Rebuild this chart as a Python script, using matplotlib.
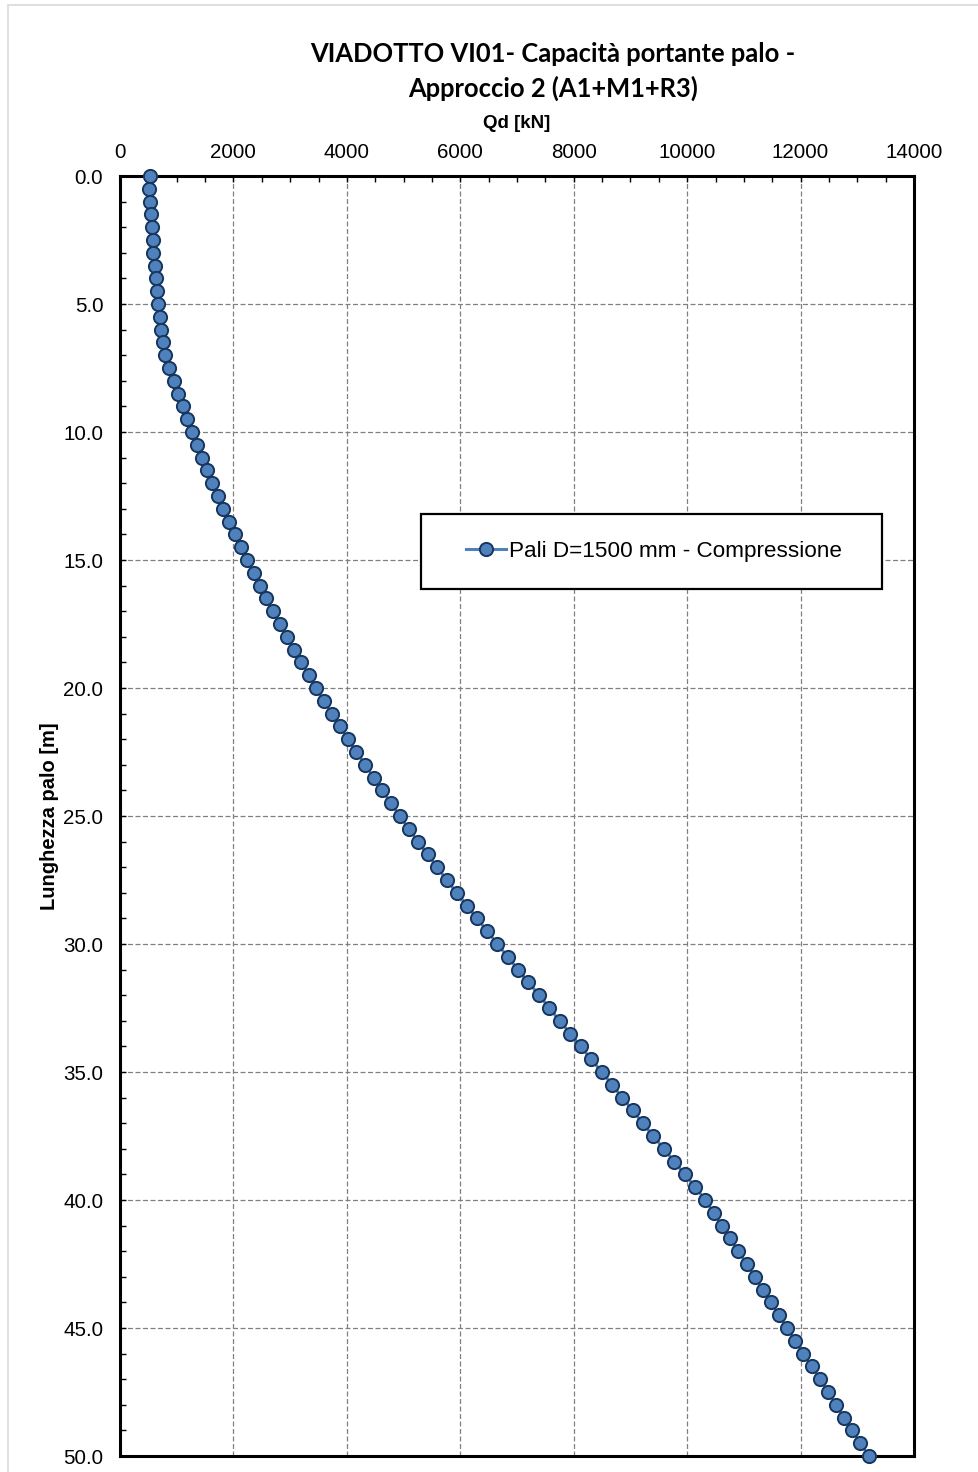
import numpy as np
import matplotlib
matplotlib.use("Agg")
import matplotlib.pyplot as plt
from matplotlib.ticker import MultipleLocator, FormatStrFormatter
from matplotlib.patches import Rectangle

# ========= Data =========
depth = np.arange(0, 50.5, 0.5)  # Lunghezza palo [m]
qd = [
    530, 515, 530, 550, 560, 580, 590, 610, 630, 650,
    670, 700, 730, 765, 800, 870, 945, 1025, 1105, 1185,
    1270, 1352, 1445, 1540, 1622, 1728, 1822, 1922, 2028, 2128,
    2239, 2357, 2463, 2574, 2698, 2816, 2939, 3068, 3197, 3327,
    3462, 3592, 3733, 3874, 4020, 4168, 4326, 4474, 4620, 4779,
    4932, 5091, 5255, 5426, 5590, 5761, 5937, 6119, 6295, 6477,
    6653, 6836, 7018, 7199, 7393, 7570, 7753, 7940, 8124, 8305,
    8499, 8676, 8857, 9040, 9217, 9404, 9587, 9774, 9958, 10145,
    10320, 10465, 10610, 10756, 10903, 11051, 11192, 11333, 11474, 11620,
    11762, 11908, 12050, 12197, 12344, 12485, 12626, 12767, 12913, 13054,
    13202,
]
series_label = "Pali D=1500 mm - Compressione"
title_lines = ["VIADOTTO VI01- Capacità portante palo -", "Approccio 2 (A1+M1+R3)"]

# ========= Figure =========
W, H = 979, 1472
fig = plt.figure(figsize=(W / 100, H / 100), dpi=100)
plt.rcParams['font.family'] = ['Liberation Sans', 'DejaVu Sans']

# light outer chart-area border
fig.patches.append(Rectangle((8 / W, -0.01), 1.0, 1 - 5 / H + 0.01, transform=fig.transFigure,
                             fill=False, edgecolor='#d9d9d9', linewidth=1.2))

ax = fig.add_axes([120 / W, 16 / H, (914 - 120) / W, (1456 - 176) / H])

ax.plot(qd, depth, color='#4f81bd', linewidth=2.2, marker='o', markersize=9.5,
        markerfacecolor='#4f81bd', markeredgecolor='#17365d', markeredgewidth=1.4,
        label=series_label, clip_on=False, zorder=3)

ax.set_xlim(0, 14000)
ax.set_ylim(50, 0)
ax.xaxis.set_major_locator(MultipleLocator(2000))
ax.xaxis.set_minor_locator(MultipleLocator(500))
ax.yaxis.set_major_locator(MultipleLocator(5))
ax.yaxis.set_minor_locator(MultipleLocator(1))
ax.yaxis.set_major_formatter(FormatStrFormatter('%.1f'))
ax.xaxis.tick_top()
ax.xaxis.set_label_position('top')
ax.tick_params(which='both', direction='in', length=4, width=1, labelsize=14.8,
               top=True, bottom=False, left=True, right=False)
ax.tick_params(axis='x', which='major', pad=10)
ax.tick_params(axis='y', which='major', pad=12)

ax.grid(True, which='major', linestyle=(0, (4, 2)), color='#808080', linewidth=0.9)
for s in ax.spines.values():
    s.set_linewidth(2.2)
    s.set_color('black')

ax.set_xlabel("Qd [kN]", fontsize=13.5, fontweight='bold', va='center')
ax.xaxis.set_label_coords(0.5, (1456 - 124) / 1280)
ax.set_ylabel("Lunghezza palo [m]", fontsize=14.5, fontweight='bold', labelpad=3)

# legend box (Excel style, square black frame)
ax.add_patch(Rectangle((0.379, 0.677), 0.581, 0.059, transform=ax.transAxes,
                       fill=True, facecolor='white', edgecolor='black', linewidth=1.6, zorder=4))
leg = ax.legend(loc='center left', bbox_to_anchor=(0.436, 0.707), fontsize=16.2,
                frameon=False, borderpad=0, handlelength=1.75,
                handletextpad=0.15, borderaxespad=0)
leg.set_zorder(5)

fig.text(553 / W, 1 - 54 / H, title_lines[0], ha='center', va='center',
         fontsize=18.4, fontweight='bold', family=['Lato', 'DejaVu Sans'])
fig.text(553 / W, 1 - 88 / H, title_lines[1], ha='center', va='center',
         fontsize=18.4, fontweight='bold', family=['Lato', 'DejaVu Sans'])

fig.savefig("out.png", dpi=100)
